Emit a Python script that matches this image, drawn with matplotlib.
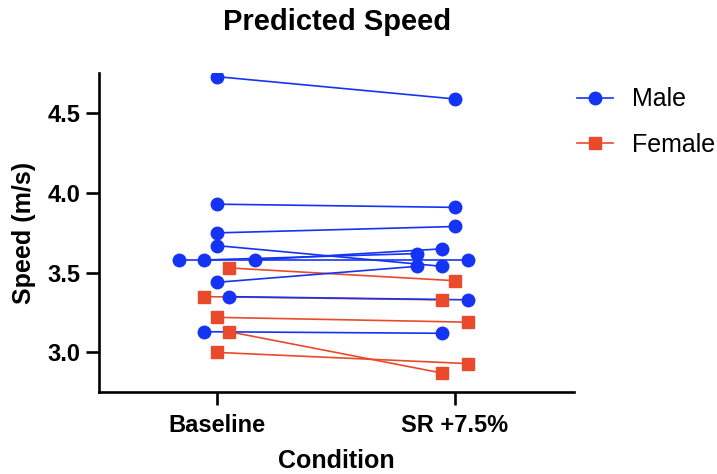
import matplotlib
matplotlib.use("Agg")
import matplotlib.pyplot as plt
from matplotlib.ticker import FormatStrFormatter

plt.rcParams['font.family'] = ['Liberation Sans', 'DejaVu Sans']

# Data
conditions = ["Baseline", "SR +7.5%"]

male_baseline = [4.73, 3.93, 3.75, 3.67, 3.58, 3.58, 3.58, 3.44, 3.35, 3.13]
male_sr = [4.59, 3.91, 3.79, 3.54, 3.58, 3.62, 3.65, 3.54, 3.33, 3.12]

female_baseline = [3.53, 3.35, 3.22, 3.13, 3.00]
female_sr = [3.45, 3.33, 3.19, 2.87, 2.93]

# horizontal spread of overlapping symbols (category units)
male_dx_base = [0, 0, 0, 0, -0.16, -0.055, 0.16, 0, 0.05, -0.055]
male_dx_sr = [0, 0, 0, -0.052, 0.056, -0.16, -0.052, -0.16, 0.056, -0.052]
female_dx_base = [0.05, -0.055, 0, 0.05, 0]
female_dx_sr = [0, -0.052, 0.056, -0.052, 0.056]

BLUE = "#1533F2"
RED = "#EA4A2C"

fig = plt.figure(figsize=(7.17, 4.74), dpi=100)
ax = fig.add_axes([0.1374, 0.1724, 0.6625, 0.6726])

# lines first, symbols on top
for b, s, db, ds in zip(female_baseline, female_sr, female_dx_base, female_dx_sr):
    ax.plot([0 + db, 1 + ds], [b, s], color=RED, lw=1.2, zorder=2)
for b, s, db, ds in zip(male_baseline, male_sr, male_dx_base, male_dx_sr):
    ax.plot([0 + db, 1 + ds], [b, s], color=BLUE, lw=1.2, zorder=2)

for b, s, db, ds in zip(male_baseline, male_sr, male_dx_base, male_dx_sr):
    ax.plot([0 + db, 1 + ds], [b, s], ls='none', marker='o', ms=9,
            color=BLUE, mec=BLUE, zorder=3)
for b, s, db, ds in zip(female_baseline, female_sr, female_dx_base, female_dx_sr):
    ax.plot([0 + db, 1 + ds], [b, s], ls='none', marker='s', ms=8,
            color=RED, mec=RED, zorder=4)

ax.set_xlim(-0.5, 1.5)
ax.set_ylim(2.75, 4.75)
ax.set_xticks([0, 1])
ax.set_xticklabels(conditions)
ax.set_yticks([3.0, 3.5, 4.0, 4.5])
ax.yaxis.set_major_formatter(FormatStrFormatter('%.1f'))

for side in ['top', 'right']:
    ax.spines[side].set_visible(False)
for side in ['left', 'bottom']:
    ax.spines[side].set_linewidth(1.9)
ax.tick_params(axis='both', width=1.9, length=9.5, labelsize=17)
ax.tick_params(axis='x', pad=6)
ax.tick_params(axis='y', pad=3.5)
for lab in ax.get_xticklabels() + ax.get_yticklabels():
    lab.set_fontweight('bold')

fig.text(337 / 717, 1 - 22.5 / 474, "Predicted Speed", ha='center', va='center',
         fontsize=21, fontweight='bold')
fig.text(336 / 717, 1 - 460.7 / 474, "Condition", ha='center', va='center',
         fontsize=18, fontweight='bold')
fig.text(24 / 717, 1 - 233 / 474, "Speed (m/s)", ha='center', va='center',
         rotation=90, fontsize=18, fontweight='bold')

h_male, = ax.plot([], [], color=BLUE, lw=1.2, marker='o', ms=9)
h_female, = ax.plot([], [], color=RED, lw=1.2, marker='s', ms=8)
fig.legend([h_male, h_female], ["Male", "Female"], loc='upper left',
           bbox_to_anchor=(577 / 717, 1 - 87.5 / 474), frameon=False,
           fontsize=18, handlelength=1.45, handletextpad=0.75,
           labelspacing=0.85, borderpad=0, borderaxespad=0)

plt.savefig("out.png", dpi=100)
